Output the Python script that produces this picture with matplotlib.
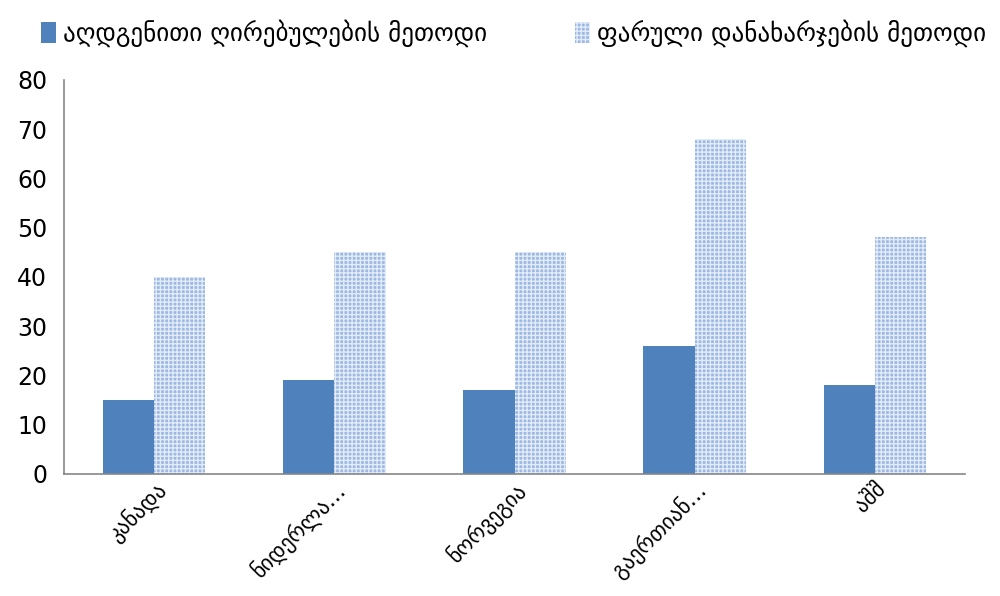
import matplotlib
matplotlib.use("Agg")
import matplotlib.pyplot as plt
import numpy as np

categories = ["კანადა", "ნიდერლა…", "ნორვეგია", "გაერთიან…", "აშშ"]
series_names = ["აღდგენითი ღირებულების მეთოდი", "ფარული დანახარჯების მეთოდი"]
replacement = [15, 19, 17, 26, 18]
hidden = [40, 45, 45, 68, 48]
yticks = [0, 10, 20, 30, 40, 50, 60, 70, 80]

plt.rcParams['font.family'] = ['DejaVu Sans']
plt.rcParams['hatch.linewidth'] = 1.0

fig = plt.figure(figsize=(10, 5.96), dpi=100)
ax = fig.add_axes([0.064, 0.205, 0.901, 0.661])

x = np.arange(len(categories))
w = 0.285
b1 = ax.bar(x - w/2, replacement, w, color='#4f81bd', label=series_names[0], zorder=2)
b2 = ax.bar(x + w/2, hidden, w, facecolor='#9cb9e4', edgecolor='#e3ebf7', hatch='++++',
            linewidth=0, label=series_names[1], zorder=2)

ax.set_xlim(-0.5, len(categories) - 0.5)
ax.set_ylim(0, 80)
ax.set_yticks(yticks)
ax.set_xticks(x)
ax.set_xticklabels(categories, rotation=45, ha='right', rotation_mode='anchor', fontsize=15.5)
ax.tick_params(axis='both', length=0)
ax.tick_params(axis='y', labelsize=17, pad=12)
ax.tick_params(axis='x', pad=3)
for s in ['top', 'right']:
    ax.spines[s].set_visible(False)
for s in ['left', 'bottom']:
    ax.spines[s].set_color('#868686')
    ax.spines[s].set_linewidth(1.2)

leg = fig.legend(handles=[b1, b2], labels=series_names, loc='upper left',
                 bbox_to_anchor=(0.018, 1.005), ncol=2, frameon=False, fontsize=18,
                 handlelength=0.6, handleheight=0.9, handletextpad=0.3, columnspacing=3.5)

fig.savefig("out.png", dpi=100)
